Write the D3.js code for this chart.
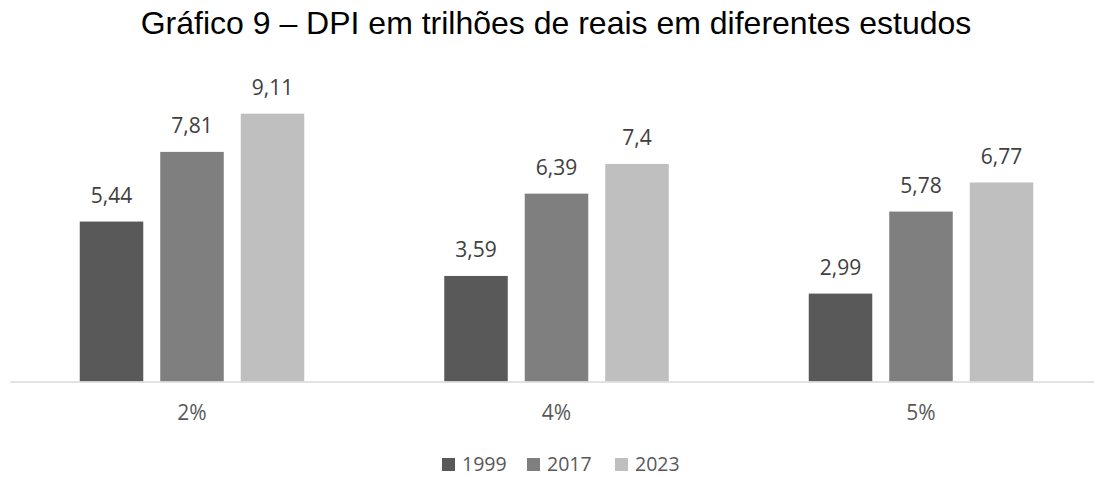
<!DOCTYPE html>
<html>
<head>
<meta charset="utf-8">
<script src="https://cdn.jsdelivr.net/npm/d3@7"></script>
<style>
  html, body { margin: 0; padding: 0; background: #fff; }
  svg { display: block; }
</style>
</head>
<body>
<svg id="chart" width="1094" height="477"></svg>
<script>
// Discount rates (categories) and studies (series)
const categories = ["2%", "4%", "5%"];
const seriesNames = ["1999", "2017", "2023"];
const values1999 = [5.44, 3.59, 2.99];
const values2017 = [7.81, 6.39, 5.78];
const values2023 = [9.11, 7.4, 6.77];
const seriesColors = ["#595959", "#7f7f7f", "#bfbfbf"];

const seriesValues = [values1999, values2017, values2023];
const rows = categories.map((c, i) => ({
  category: c,
  items: seriesNames.map((s, j) => ({ series: s, value: seriesValues[j][i], color: seriesColors[j] }))
}));

const svg = d3.select("#chart");
const baseline = 381.5;
const fmt = v => String(v).replace(".", ",");

const x0 = d3.scaleBand().domain(categories).range([10, 1103.5]).padding(0);
const x1 = d3.scaleBand().domain(seriesNames).range([69.75, 294.25]).paddingInner(0.211).paddingOuter(0);
const y = d3.scaleLinear().domain([0, 10]).range([baseline, 87.5]);

// Title
svg.append("text")
  .attr("x", 556).attr("y", 34)
  .attr("text-anchor", "middle")
  .attr("font-family", "Liberation Sans, Arial, sans-serif")
  .attr("font-size", 32)
  .attr("fill", "#000")
  .text("Gráfico 9 – DPI em trilhões de reais em diferentes estudos");

// Bars
const groups = svg.append("g").selectAll("g")
  .data(rows).join("g")
  .attr("transform", d => `translate(${x0(d.category)},0)`);

groups.selectAll("rect")
  .data(d => d.items).join("rect")
  .attr("x", d => x1(d.series))
  .attr("width", x1.bandwidth())
  .attr("y", d => y(d.value))
  .attr("height", d => baseline - y(d.value))
  .attr("fill", d => d.color);

// Value labels
groups.selectAll("text")
  .data(d => d.items).join("text")
  .attr("x", d => x1(d.series) + x1.bandwidth() / 2)
  .attr("y", d => y(d.value) - 18.5)
  .attr("text-anchor", "middle")
  .attr("font-family", "Open Sans, sans-serif")
  .attr("font-size", 21)
  .attr("fill", "#404040")
  .text(d => fmt(d.value));

// Category axis
const axis = svg.append("g")
  .attr("transform", `translate(0,${baseline})`)
  .call(d3.axisBottom(x0).tickSize(0).tickPadding(0).tickFormat(d => d));
axis.select(".domain").attr("stroke", "#d9d9d9").attr("stroke-width", 1.5);
axis.selectAll(".tick").attr("transform", d => `translate(${x0(d) + x1(seriesNames[1]) + x1.bandwidth() / 2},0)`);
axis.selectAll(".tick text")
  .attr("y", 38.5).attr("dy", null)
  .attr("font-family", "Open Sans, sans-serif")
  .attr("font-size", 21)
  .attr("fill", "#595959");

// Legend
const legendX = [442, 527, 615];
const legend = svg.append("g").selectAll("g")
  .data(seriesNames).join("g")
  .attr("transform", (d, i) => `translate(${legendX[i]},458)`);
legend.append("rect")
  .attr("width", 13).attr("height", 13)
  .attr("fill", (d, i) => seriesColors[i]);
legend.append("text")
  .attr("x", 20).attr("y", 13)
  .attr("font-family", "Open Sans, sans-serif")
  .attr("font-size", 19.5)
  .attr("fill", "#595959")
  .text(d => d);
</script>
</body>
</html>
